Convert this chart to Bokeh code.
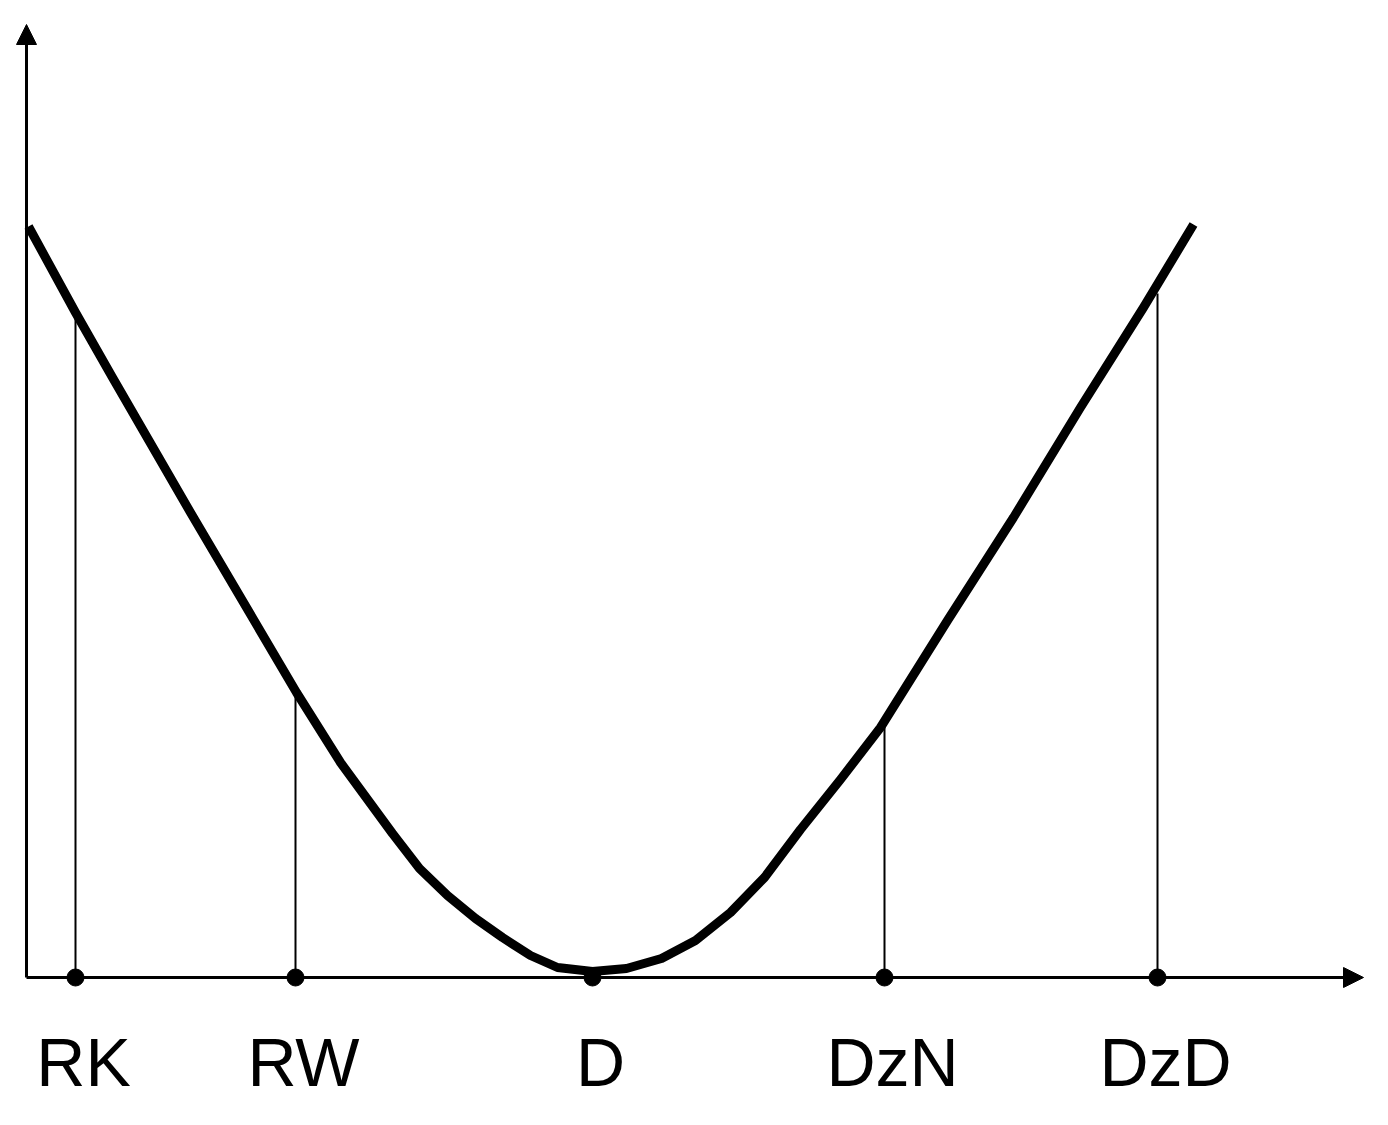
from bokeh.plotting import figure
from bokeh.models import Range1d, Arrow, NormalHead, ColumnDataSource
from bokeh.core.properties import value
from bokeh.embed import file_html
from bokeh.resources import INLINE

# categories on the horizontal axis and their positions / curve heights
categories = ["RK", "RW", "D", "DzN", "DzD"]
cat_x = [0.49, 2.69, 5.66, 8.58, 11.31]
cat_y = [6.65, 2.85, 0.06, 2.56, 6.84]

# the U-shaped curve
curve_x = [0.02, 0.49, 0.86, 1.64, 2.70, 3.14, 3.66, 3.93, 4.21, 4.49, 4.76,
           5.04, 5.31, 5.66, 6.00, 6.35, 6.69, 7.04, 7.38, 7.74, 8.14, 8.54,
           9.21, 9.87, 10.54, 11.17, 11.67]
curve_y = [7.51, 6.65, 6.00, 4.65, 2.85, 2.15, 1.44, 1.09, 0.82, 0.59, 0.40,
           0.22, 0.10, 0.06, 0.09, 0.19, 0.37, 0.65, 1.00, 1.48, 1.98, 2.50,
           3.57, 4.60, 5.70, 6.70, 7.53]

W, H = 1372, 1105
x0, y1 = -0.26, 9.77
p = figure(width=W, height=H, output_backend="svg", toolbar_location=None,
           x_range=Range1d(x0, x0 + W / 100), y_range=Range1d(y1 - H / 100, y1),
           min_border=0)
p.axis.visible = False
p.grid.visible = False
p.outline_line_color = None
p.background_fill_color = "white"
p.border_fill_color = "white"

# axes with arrow heads
p.add_layout(Arrow(x_start=0, y_start=0, x_end=13.37, y_end=0, line_width=3,
                   line_color="black",
                   end=NormalHead(size=20, fill_color="black", line_color="black", line_width=1)))
p.add_layout(Arrow(x_start=0, y_start=0, x_end=0, y_end=9.53, line_width=3,
                   line_color="black",
                   end=NormalHead(size=20, fill_color="black", line_color="black", line_width=1)))

src = ColumnDataSource(dict(x=cat_x, y=cat_y, y0=[0] * len(cat_x), lab=categories))

# vertical drop lines
p.segment(x0="x", y0="y0", x1="x", y1="y", source=src, line_width=2, line_color="black")

# curve
p.line(curve_x, curve_y, line_width=9, line_color="black", line_join="round", line_cap="butt")

# dots on the axis
p.scatter(x="x", y="y0", source=src, size=17, marker="circle", fill_color="black", line_color="black")

# labels
p.text(x="x", y=-0.84, text="lab", source=src, text_align="center", text_baseline="alphabetic",
       x_offset=8, text_font=value("Liberation Sans"), text_font_size="68px", text_color="black")

open("out.html", "w").write(file_html(p, INLINE))
